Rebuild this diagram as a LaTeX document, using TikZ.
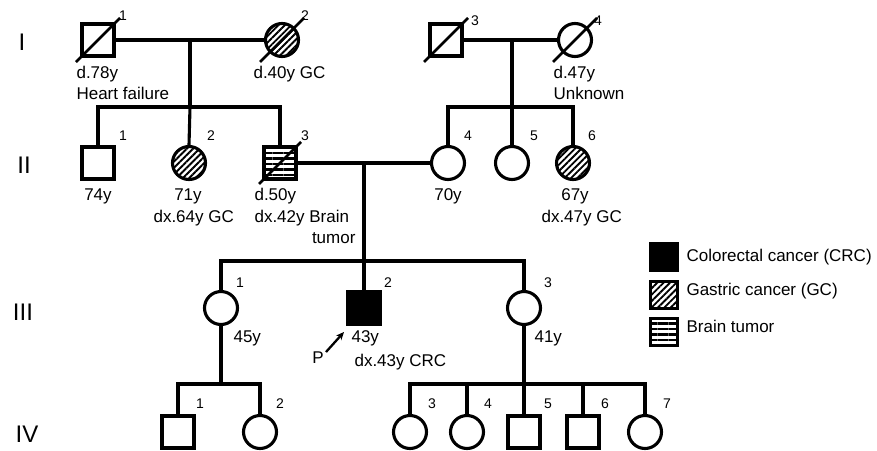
\documentclass[tikz,border=0pt]{standalone}
\usepackage{fontspec}
\setmainfont{Liberation Sans}
\usetikzlibrary{patterns.meta,arrows.meta}
\begin{document}
\begin{tikzpicture}[x=1pt,y=-1pt,
  line width=3.1pt,
  male/.style={draw, rectangle, minimum size=32pt, inner sep=0pt},
  female/.style={draw, circle, minimum size=33pt, inner sep=0pt},
  gc/.style={pattern={Lines[angle=45,distance=4.5pt,line width=1.9pt]}},
  bt/.style={pattern={Lines[angle=0,distance=5.5pt,line width=2.9pt]}},
  crc/.style={fill=black},
  txt/.style={font=\fontsize{17}{20}\selectfont, inner sep=0pt},
  num/.style={font=\fontsize{14}{16}\selectfont, inner sep=0pt, anchor=base},
  gen/.style={font=\fontsize{24}{28}\selectfont, inner sep=0pt, anchor=base},
  slash/.style={line width=2.6pt},
  legbox/.style={draw, rectangle, minimum size=27pt, inner sep=0pt},
]
\useasboundingbox (0,0) rectangle (877,450);

% ---------- Generation labels
\node[gen] (gI) at (22,50) {I};
\node[gen] (gII) at (24,173) {II};
\node[gen] (gIII) at (23,320) {III};
\node[gen] (gIV) at (27,442) {IV};

% ---------- Generation I
\node[male] (I1) at (98,40) {};
\node[female, gc] (I2) at (282,40) {};
\node[male] (I3) at (446,40) {};
\node[female] (I4) at (575,40) {};
\draw[slash] ([shift={(-22,22)}]I1.center) -- ([shift={(22,-22)}]I1.center);
\draw[slash] ([shift={(-22,22)}]I2.center) -- ([shift={(22,-22)}]I2.center);
\draw[slash] ([shift={(-22,22)}]I3.center) -- ([shift={(22,-22)}]I3.center);
\draw[slash] ([shift={(-22,22)}]I4.center) -- ([shift={(22,-22)}]I4.center);
\node[num] (nI1) at (123,20) {1};
\node[num] (nI2) at (305,20) {2};
\node[num] (nI3) at (475,25) {3};
\node[num] (nI4) at (598,25) {4};
\node[txt, anchor=base west] (tI1a) at (75,78) {d.78y};
\node[txt, anchor=base west] (tI1b) at (75,99) {Heart failure};
\node[txt, anchor=base west] (tI2a) at (252,78) {d.40y GC};
\node[txt, anchor=base west] (tI4a) at (552,78) {d.47y};
\node[txt, anchor=base west] (tI4b) at (552,99) {Unknown};

% ---------- Generation II
\node[male] (II1) at (98,163) {};
\node[female, gc] (II2) at (189,163) {};
\node[male, bt] (II3) at (280,163) {};
\node[female] (II4) at (448,163) {};
\node[female] (II5) at (512,163) {};
\node[female, gc] (II6) at (573,163) {};
\draw[slash] ([shift={(-21,21)}]II3.center) -- ([shift={(21,-21)}]II3.center);
\node[num] (nII1) at (123,140) {1};
\node[num] (nII2) at (211,140) {2};
\node[num] (nII3) at (305,140) {3};
\node[num] (nII4) at (468,140) {4};
\node[num] (nII5) at (534,140) {5};
\node[num] (nII6) at (592,140) {6};
\node[txt, anchor=base] (tII1) at (98,200) {74y};
\node[txt, anchor=base] (tII2a) at (188,200) {71y};
\node[txt, anchor=base west] (tII2b) at (152,222) {dx.64y GC};
\node[txt, anchor=base west] (tII3a) at (253,200) {d.50y};
\node[txt, anchor=base west] (tII3b) at (253,222) {dx.42y Brain};
\node[txt, anchor=base east] (tII3c) at (357,243) {tumor};
\node[txt, anchor=base] (tII4) at (448,200) {70y};
\node[txt, anchor=base] (tII6a) at (575,200) {67y};
\node[txt, anchor=base west] (tII6b) at (540,222) {dx.47y GC};

% ---------- Generation III
\node[female] (III1) at (221,308) {};
\node[male, crc] (III2) at (364,308) {};
\node[female] (III3) at (524,308) {};
\node[num] (nIII1) at (240,287) {1};
\node[num] (nIII2) at (388,287) {2};
\node[num] (nIII3) at (548,287) {3};
\node[txt, anchor=base west] (tIII1) at (232,342) {45y};
\node[txt, anchor=base west] (tIII2a) at (350,342) {43y};
\node[txt, anchor=base west] (tIII2b) at (353,366) {dx.43y CRC};
\node[txt, anchor=base west] (tIII3) at (533,342) {41y};
\node[txt, anchor=base] (P) at (318,363) {P};
\coordinate (pa) at (326,352);
\coordinate (pb) at (344,332);
\draw[line width=2.3pt, -{Stealth[length=8pt,width=7pt]}] (pa) -- (pb);

% ---------- Generation IV
\node[male] (IV1) at (178,432) {};
\node[female] (IV2) at (260,432) {};
\node[female] (IV3) at (410,432) {};
\node[female] (IV4) at (467,432) {};
\node[male] (IV5) at (524,432) {};
\node[male] (IV6) at (583,432) {};
\node[female] (IV7) at (645,432) {};
\node[num] (nIV1) at (200,408) {1};
\node[num] (nIV2) at (280,408) {2};
\node[num] (nIV3) at (432,408) {3};
\node[num] (nIV4) at (488,408) {4};
\node[num] (nIV5) at (548,408) {5};
\node[num] (nIV6) at (605,408) {6};
\node[num] (nIV7) at (667,408) {7};

% ---------- Connectors
\coordinate (m1) at (190,40);
\coordinate (s1) at (190,107);
\draw (I1) -- (I2);
\draw (m1) -- (s1);
\draw (II1.north) |- (s1) -| (II3.north);
\draw (s1) -- (II2.north);

\coordinate (m2) at (512,40);
\coordinate (s2) at (512,107);
\draw (I3) -- (I4);
\draw (m2) -- (II5.north);
\draw (II4.north) |- (s2) -| (II6.north);

\coordinate (m3) at (364,163);
\coordinate (s3) at (364,261);
\draw (II3) -- (II4);
\draw (m3) -- (III2.north);
\draw (III1.north) |- (s3) -| (III3.north);

\coordinate (s4) at (221,384);
\draw (III1.south) -- (s4);
\draw (IV1.north) |- (s4) -| (IV2.north);

\coordinate (s5) at (524,384);
\draw (III3.south) -- (IV5.north);
\draw (IV3.north) |- (s5) -| (IV7.north);
\draw (IV4.north) -- (IV4.north |- s5);
\draw (IV6.north) -- (IV6.north |- s5);

% ---------- Legend
\node[legbox, crc] (L1) at (664,257) {};
\node[legbox, gc] (L2) at (664,295) {};
\node[legbox, bt] (L3) at (664,332) {};
\node[txt, anchor=base west] (tL1) at (685,261) {Colorectal cancer (CRC)};
\node[txt, anchor=base west] (tL2) at (685,295) {Gastric cancer (GC)};
\node[txt, anchor=base west] (tL3) at (685,332) {Brain tumor};
\end{tikzpicture}
\end{document}
